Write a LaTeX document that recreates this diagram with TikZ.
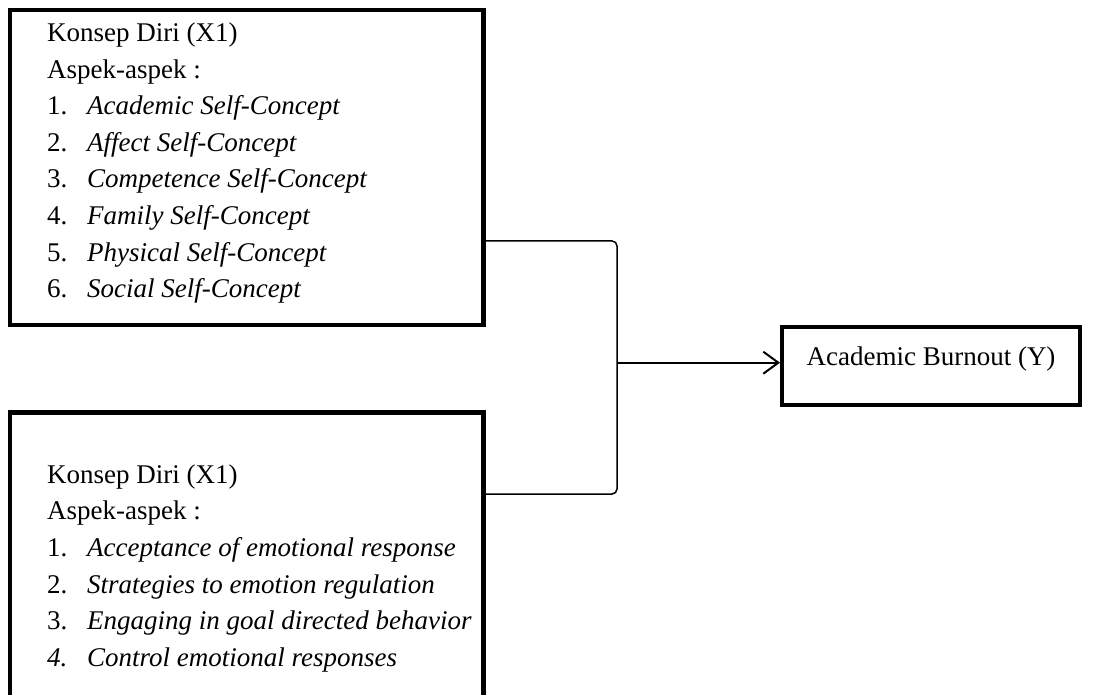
\documentclass[tikz,border=0pt]{standalone}
\usepackage{fontspec}
\setmainfont{Liberation Serif}
\usetikzlibrary{arrows.meta}
\tikzset{
  xbox/.style={draw, line width=4.5pt, rectangle, inner sep=0pt},
  ybox/.style={draw, line width=4pt, rectangle, inner sep=0pt},
  listtext/.style={inner sep=0pt, anchor=base west, font=\fontsize{27}{36.6}\selectfont},
  bracket/.style={line width=1.5pt, rounded corners=5pt},
  arrowline/.style={line width=2pt, -{Straight Barb[length=15pt,width=22pt,line width=2pt]}}
}
\newcommand{\itm}[2]{\makebox[40pt][l]{#1}&#2\\}
\begin{document}
\begin{tikzpicture}[x=1pt,y=-1pt]
\useasboundingbox (0,0) rectangle (1120,695);
\clip (0,0) rectangle (1120,695);
% boxes
\node[xbox, minimum width=473.5pt, minimum height=315pt] (x1) at (246.75,167.5) {};
\node[xbox, minimum width=473.5pt, minimum height=347.5pt] (x2) at (246.75,586.25) {};
\node[ybox, minimum width=298pt, minimum height=77.5pt, text height=18pt, text depth=19.5pt,
      font=\fontsize{27}{32}\selectfont] (y) at (931,365.75) {Academic Burnout (Y)};
% texts
\node[listtext] (t1) at (47,41.5) {%
\begin{tabular}[t]{@{}l@{}l@{}}
\multicolumn{2}{@{}l@{}}{Konsep Diri (X1)}\\
\multicolumn{2}{@{}l@{}}{Aspek-aspek :}\\
\itm{1.}{\textit{Academic Self-Concept}}
\itm{2.}{\textit{Affect Self-Concept}}
\itm{3.}{\textit{Competence Self-Concept}}
\itm{4.}{\textit{Family Self-Concept}}
\itm{5.}{\textit{Physical Self-Concept}}
\itm{6.}{\textit{Social Self-Concept}}
\end{tabular}};
\node[listtext] (t2) at (47,483.3) {%
\begin{tabular}[t]{@{}l@{}l@{}}
\multicolumn{2}{@{}l@{}}{Konsep Diri (X1)}\\
\multicolumn{2}{@{}l@{}}{Aspek-aspek :}\\
\itm{1.}{\textit{Acceptance of emotional response}}
\itm{2.}{\textit{Strategies to emotion regulation}}
\itm{3.}{\textit{Engaging in goal directed behavior}}
\itm{\textit{4.}}{\textit{Control emotional responses}}
\end{tabular}};
% connectors
\coordinate (b1) at (617,241);
\coordinate (b2) at (617,494);
\coordinate (j) at (617,362.7);
\draw[bracket] (x1.east |- b1) -- (b1) -- (b2) -- (x2.east |- b2);
\draw[arrowline] (j) -- (y.west |- j);
\end{tikzpicture}
\end{document}
